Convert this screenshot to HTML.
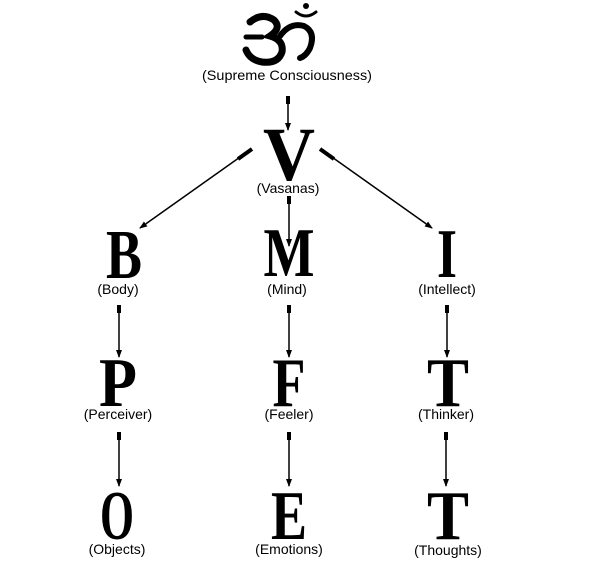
<!DOCTYPE html>
<html><head><meta charset="utf-8"><style>
html,body{margin:0;padding:0;background:#fff;}
svg{display:block}
.L{font-family:"Liberation Serif",serif;font-weight:bold;font-size:70px;text-anchor:middle;fill:#000}
.s{font-family:"Liberation Sans",sans-serif;font-size:14px;text-anchor:middle;fill:#000}
</style></head><body>
<svg width="600" height="567" viewBox="0 0 600 567" xmlns="http://www.w3.org/2000/svg">
<defs>
<marker id="a" markerWidth="8" markerHeight="8" refX="7" refY="4" orient="auto" markerUnits="userSpaceOnUse">
<path d="M0,1 L8,4 L0,7 z" fill="#000"/></marker>
</defs>
<!-- Om -->
<g fill="none" stroke="#000" stroke-linecap="round">
<path d="M250,22 Q262,12 274,20 Q282,28 270,36 Q284,40 282,52 Q278,64 262,62 Q250,60 246,50" stroke-width="7"/>
<path d="M246,37 L262,37" stroke-width="5"/>
<path d="M280,36 Q290,22 304,26 Q316,32 310,48 Q306,56 300,58" stroke-width="6"/>
<path d="M296,12 Q306,20 316,12" stroke-width="3"/>
</g>
<circle cx="306" cy="6" r="3" fill="#000"/>
<text class="s" x="287" y="80" textLength="170" lengthAdjust="spacingAndGlyphs">(Supreme Consciousness)</text>
<g stroke="#000" stroke-width="1.5" marker-end="url(#a)">
<line x1="288" y1="96" x2="288" y2="130"/>
<line x1="289" y1="196" x2="289" y2="246"/>
<line x1="250" y1="150" x2="140" y2="228"/>
<line x1="322" y1="150" x2="432" y2="228"/>
<line x1="119" y1="305" x2="119" y2="357"/>
<line x1="119" y1="432" x2="119" y2="486"/>
<line x1="289" y1="305" x2="289" y2="357"/>
<line x1="289" y1="432" x2="289" y2="486"/>
<line x1="447" y1="305" x2="447" y2="357"/>
<line x1="446" y1="432" x2="446" y2="486"/>
</g>
<g stroke="#000" stroke-width="4">
<line x1="288" y1="96" x2="288" y2="104"/>
<line x1="289" y1="196" x2="289" y2="204"/>
<line x1="119" y1="305" x2="119" y2="313"/>
<line x1="119" y1="432" x2="119" y2="440"/>
<line x1="289" y1="305" x2="289" y2="313"/>
<line x1="289" y1="432" x2="289" y2="440"/>
<line x1="447" y1="305" x2="447" y2="313"/>
<line x1="446" y1="432" x2="446" y2="440"/>
<line x1="252" y1="149" x2="238" y2="159"/>
<line x1="320" y1="149" x2="334" y2="159"/>
</g>
<text class="L" x="289" y="180" style="font-size:76px" textLength="52" lengthAdjust="spacingAndGlyphs">V</text>
<text class="s" x="288" y="193">(Vasanas)</text>
<text class="L" x="124" y="278" textLength="36" lengthAdjust="spacingAndGlyphs">B</text>
<text class="L" x="289" y="276" textLength="51" lengthAdjust="spacingAndGlyphs">M</text>
<text class="L" x="447" y="277" textLength="20" lengthAdjust="spacingAndGlyphs">I</text>
<text class="s" x="118" y="294">(Body)</text>
<text class="s" x="287" y="294">(Mind)</text>
<text class="s" x="447" y="294">(Intellect)</text>
<text class="L" x="118" y="406" textLength="38" lengthAdjust="spacingAndGlyphs">P</text>
<text class="L" x="289" y="406" textLength="33" lengthAdjust="spacingAndGlyphs">F</text>
<text class="L" x="448" y="406" textLength="42" lengthAdjust="spacingAndGlyphs">T</text>
<text class="s" x="118" y="419">(Perceiver)</text>
<text class="s" x="289" y="419">(Feeler)</text>
<text class="s" x="446" y="419">(Thinker)</text>
<text class="L" x="117" y="539" textLength="34" lengthAdjust="spacingAndGlyphs">O</text>
<text class="L" x="289" y="539" textLength="36" lengthAdjust="spacingAndGlyphs">E</text>
<text class="L" x="448" y="539" textLength="42" lengthAdjust="spacingAndGlyphs">T</text>
<text class="s" x="117" y="554">(Objects)</text>
<text class="s" x="289" y="554">(Emotions)</text>
<text class="s" x="448" y="555">(Thoughts)</text>
</svg>
</body></html>
